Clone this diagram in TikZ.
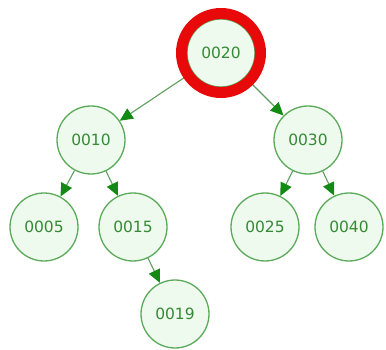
\documentclass[tikz,border=0pt]{standalone}
\usepackage{fontspec}
\setmainfont{DejaVu Sans}
\usetikzlibrary{arrows.meta}
\definecolor{nodeline}{HTML}{5AAA5A}
\definecolor{nodefill}{HTML}{EEFAEE}
\definecolor{nodetext}{HTML}{358A35}
\definecolor{edgecol}{HTML}{5E9E5E}
\definecolor{tipcol}{HTML}{138A13}
\definecolor{ringred}{HTML}{E80A0A}
\tikzset{
  treenode/.style={circle, draw=nodeline, fill=nodefill, line width=1.3pt,
    minimum size=68pt, inner sep=0pt, text=nodetext, font=\fontsize{15.5}{15.5}\selectfont},
  treeedge/.style={draw=edgecol, line width=1.1pt,
    -{Triangle[length=13pt,width=12pt,color=tipcol]}},
  highlight/.style={draw=ringred, line width=11pt}
}
\begin{document}
\begin{tikzpicture}[x=1pt,y=1pt]
\useasboundingbox (0,0) rectangle (386,-350);
\node[treenode] (n20) at (221,-53) {0020};
\node[treenode] (n10) at (91,-140) {0010};
\node[treenode] (n30) at (308,-140) {0030};
\node[treenode] (n05) at (44,-227) {0005};
\node[treenode] (n15) at (133,-227) {0015};
\node[treenode] (n25) at (265,-227) {0025};
\node[treenode] (n40) at (349,-227) {0040};
\node[treenode] (n19) at (175,-314) {0019};
\draw[treeedge] (n20) -- (n10);
\draw[treeedge] (n20) -- (n30);
\draw[treeedge] (n10) -- (n05);
\draw[treeedge] (n10) -- (n15);
\draw[treeedge] (n30) -- (n25);
\draw[treeedge] (n30) -- (n40);
\draw[treeedge] (n15) -- (n19);
\draw[highlight] (n20.center) circle (39.5pt);
\end{tikzpicture}
\end{document}
